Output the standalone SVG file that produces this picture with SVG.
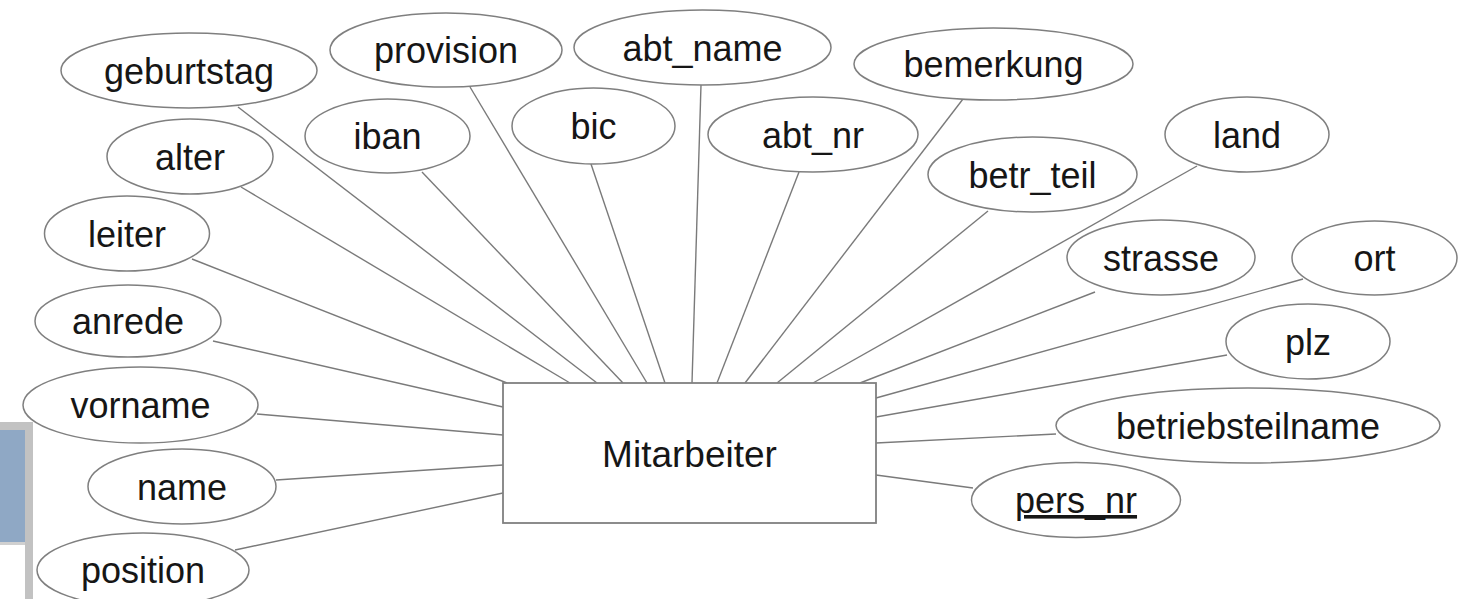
<svg xmlns="http://www.w3.org/2000/svg" width="1469" height="599" viewBox="0 0 1469 599">
<style>
.conn line{stroke:#7a7a7a;stroke-width:1.4;fill:none}
.attr ellipse{fill:#fff;stroke:#7f7f7f;stroke-width:1.5}
.lbl{font-family:"Liberation Sans",Arial,Helvetica,sans-serif;font-size:36px;fill:#161616;text-anchor:middle}
.ent rect{fill:#fff;stroke:#808080;stroke-width:1.8}
</style>
<rect width="1469" height="599" fill="#fff"/>
<g id="side-artifact">
<rect x="0" y="422" width="33" height="177" fill="#c2c2c2"/>
<rect x="0" y="430" width="25" height="169" fill="#fff"/>
<rect x="0" y="430" width="25" height="112" fill="#8fa8c5"/>
<rect x="0" y="542" width="25" height="3" fill="#d0d0d0"/>
</g>
<g id="connectors" class="conn">
<line x1="238" y1="107" x2="597" y2="383"/>
<line x1="241" y1="187" x2="570" y2="383"/>
<line x1="192" y1="259" x2="507" y2="383"/>
<line x1="422" y1="172" x2="623" y2="383"/>
<line x1="470" y1="87" x2="647" y2="383"/>
<line x1="591" y1="164" x2="665" y2="383"/>
<line x1="701" y1="85" x2="692" y2="383"/>
<line x1="799" y1="172" x2="717" y2="383"/>
<line x1="963" y1="99" x2="745" y2="383"/>
<line x1="988" y1="211" x2="777" y2="383"/>
<line x1="1197" y1="166" x2="813" y2="383"/>
<line x1="1095" y1="292" x2="860" y2="383"/>
<line x1="1303" y1="279" x2="876" y2="398"/>
<line x1="1227" y1="355" x2="876" y2="417"/>
<line x1="1056" y1="434" x2="876" y2="443"/>
<line x1="973" y1="488" x2="876" y2="475"/>
<line x1="213" y1="341" x2="503" y2="407"/>
<line x1="257" y1="414" x2="503" y2="435"/>
<line x1="276" y1="480" x2="503" y2="465"/>
<line x1="235" y1="550" x2="503" y2="493"/>
</g>
<g id="Mitarbeiter" class="ent">
<rect x="503" y="383" width="373" height="140"/>
<text class="lbl" x="689.5" y="467" style="font-size:37px">Mitarbeiter</text>
</g>
<g id="geburtstag" class="attr"><ellipse cx="189" cy="70.5" rx="128" ry="37.5"/><text class="lbl" x="189" y="84">geburtstag</text></g>
<g id="provision" class="attr"><ellipse cx="446" cy="50" rx="116" ry="37"/><text class="lbl" x="446" y="63">provision</text></g>
<g id="abt_name" class="attr"><ellipse cx="702.5" cy="47.5" rx="128.5" ry="37.5"/><text class="lbl" x="702.5" y="61">abt_name</text></g>
<g id="bemerkung" class="attr"><ellipse cx="993.5" cy="64" rx="139.5" ry="36"/><text class="lbl" x="993.5" y="77">bemerkung</text></g>
<g id="land" class="attr"><ellipse cx="1247" cy="134.5" rx="82" ry="37.5"/><text class="lbl" x="1247" y="148">land</text></g>
<g id="alter" class="attr"><ellipse cx="190" cy="156.5" rx="83" ry="37.5"/><text class="lbl" x="190" y="170">alter</text></g>
<g id="iban" class="attr"><ellipse cx="387.5" cy="136" rx="82.5" ry="37"/><text class="lbl" x="387.5" y="149">iban</text></g>
<g id="bic" class="attr"><ellipse cx="593.5" cy="126" rx="81.5" ry="38"/><text class="lbl" x="593.5" y="139">bic</text></g>
<g id="abt_nr" class="attr"><ellipse cx="813" cy="134.5" rx="105" ry="37.5"/><text class="lbl" x="813" y="148">abt_nr</text></g>
<g id="betr_teil" class="attr"><ellipse cx="1032.5" cy="174.5" rx="104.5" ry="37.5"/><text class="lbl" x="1032.5" y="188">betr_teil</text></g>
<g id="leiter" class="attr"><ellipse cx="127" cy="233.5" rx="82.5" ry="37.5"/><text class="lbl" x="127" y="247">leiter</text></g>
<g id="strasse" class="attr"><ellipse cx="1161" cy="257.5" rx="94" ry="37.5"/><text class="lbl" x="1161" y="271">strasse</text></g>
<g id="ort" class="attr"><ellipse cx="1374.5" cy="258" rx="82.5" ry="37"/><text class="lbl" x="1374.5" y="271">ort</text></g>
<g id="anrede" class="attr"><ellipse cx="128" cy="321" rx="93" ry="36"/><text class="lbl" x="128" y="334">anrede</text></g>
<g id="plz" class="attr"><ellipse cx="1308" cy="341.5" rx="82" ry="37.5"/><text class="lbl" x="1308" y="355">plz</text></g>
<g id="vorname" class="attr"><ellipse cx="140.5" cy="405" rx="117.5" ry="38"/><text class="lbl" x="140.5" y="418">vorname</text></g>
<g id="betriebsteilname" class="attr"><ellipse cx="1248" cy="425.5" rx="192" ry="37.5"/><text class="lbl" x="1248" y="439">betriebsteilname</text></g>
<g id="name" class="attr"><ellipse cx="182" cy="486.5" rx="94" ry="37.5"/><text class="lbl" x="182" y="500">name</text></g>
<g id="pers_nr" class="attr"><ellipse cx="1076" cy="500" rx="104.5" ry="37.5"/><text class="lbl" x="1076" y="513" text-decoration="underline">pers_nr</text></g>
<g id="position" class="attr"><ellipse cx="143" cy="570" rx="106" ry="37"/><text class="lbl" x="143" y="583">position</text></g>
</svg>
